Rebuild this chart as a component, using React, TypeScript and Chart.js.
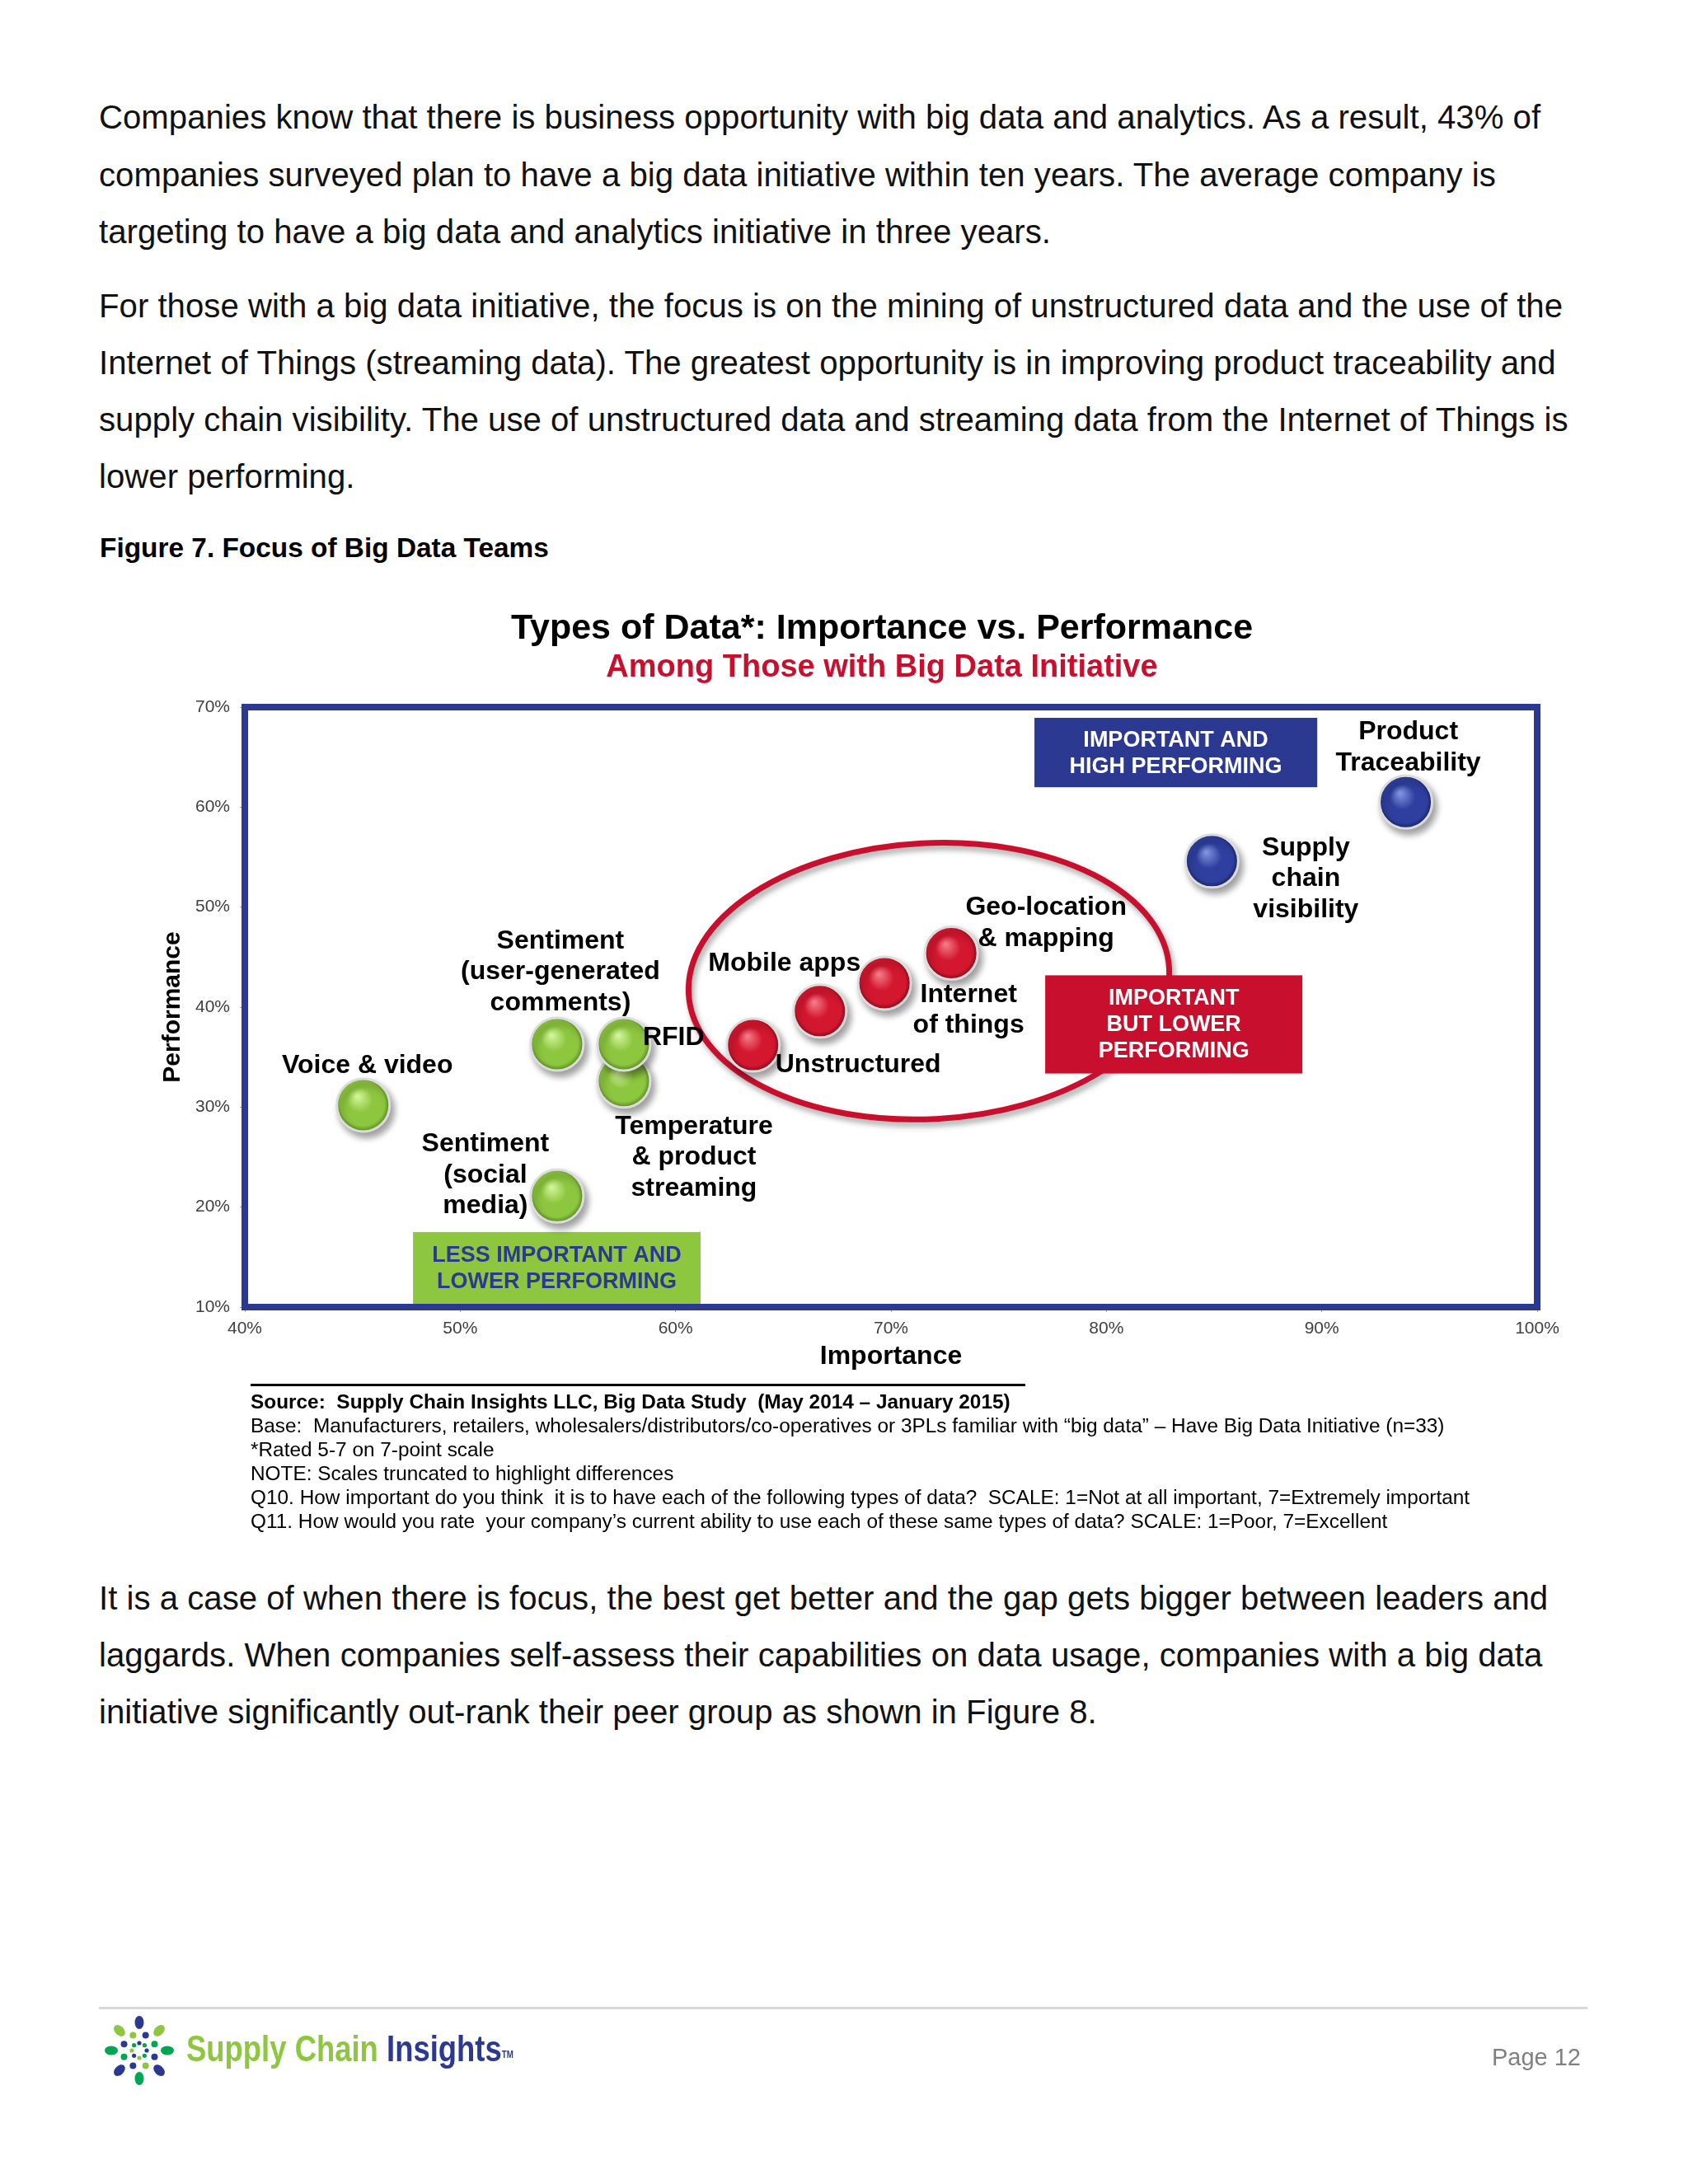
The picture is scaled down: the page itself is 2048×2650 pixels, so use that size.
import React, { useEffect, useRef } from 'react';
import { Chart, registerables } from 'chart.js';

Chart.register(...registerables);

const FONT = '"Liberation Sans", Arial, Helvetica, sans-serif';

// ---------------- data ----------------
const dataTypes = [
  'Voice & video',
  'Sentiment (social media)',
  'Sentiment (user-generated comments)',
  'Temperature & product streaming',
  'RFID',
  'Unstructured',
  'Mobile apps',
  'Internet of things',
  'Geo-location & mapping',
  'Supply chain visibility',
  'Product Traceability',
];
const importance = [45.5, 54.5, 54.5, 57.6, 57.6, 63.6, 66.7, 69.7, 72.8, 84.9, 93.9];
const performance = [30.2, 21.1, 36.3, 32.6, 36.3, 36.2, 39.6, 42.4, 45.4, 54.6, 60.5];
const quadrant = ['low', 'low', 'low', 'low', 'low', 'mid', 'mid', 'mid', 'mid', 'high', 'high'];
const labelLines = [
  ['Voice & video'],
  ['Sentiment', '(social', 'media)'],
  ['Sentiment', '(user-generated', 'comments)'],
  ['Temperature', '& product', 'streaming'],
  ['RFID'],
  ['Unstructured'],
  ['Mobile apps'],
  ['Internet', 'of things'],
  ['Geo-location', '& mapping'],
  ['Supply', 'chain', 'visibility'],
  ['Product', 'Traceability'],
];
const xRange = [40, 100];
const yRange = [10, 70];
const tickStep = 10;

const quadrantBoxes = [
  { x0: 76.66, x1: 89.79, y0: 61.99, y1: 68.93, lines: ['IMPORTANT AND', 'HIGH PERFORMING'], bg: '#2B3990', fg: '#FFFFFF' },
  { x0: 77.16, x1: 89.1, y0: 33.36, y1: 43.18, lines: ['IMPORTANT', 'BUT LOWER', 'PERFORMING'], bg: '#C8102E', fg: '#FFFFFF' },
  { x0: 47.81, x1: 61.16, y0: 10.3, y1: 17.51, lines: ['LESS IMPORTANT AND', 'LOWER PERFORMING'], bg: '#8DC63F', fg: '#2B3990' },
];
const focusEllipse = { cx: 71.76, cy: 42.6, rx: 11.17, ry: 13.8, rot: -3 };

// label placement relative to its ball (pixels)
const labelOffsets = [
  { dx: 5, dy: -48, align: 'center' },
  { dx: -87, dy: -63, align: 'center' },
  { dx: 4, dy: -125, align: 'center' },
  { dx: 85, dy: 55, align: 'center' },
  { dx: 23, dy: -8, align: 'left' },
  { dx: 27, dy: 24, align: 'left' },
  { dx: -43, dy: -58, align: 'center' },
  { dx: 102, dy: 14, align: 'center' },
  { dx: 115, dy: -55, align: 'center' },
  { dx: 114, dy: -16, align: 'center' },
  { dx: 3, dy: -85, align: 'center' },
];

const NAVY = '#2B3990';
const RED = '#C8102E';

const ballColors: Record<string, string[]> = {
  low: ['#d2f59a', '#8dc63f', '#4f8418'],
  mid: ['#f47a88', '#d3172f', '#7e0816'],
  high: ['#8093dd', '#2f3f9f', '#151e5a'],
};

function ballFill(group: string) {
  return (c: any) => {
    const [light, base, dark] = ballColors[group];
    if (!c || c.type !== 'data') return base;
    const chart = c.chart;
    const xs = chart.scales && chart.scales.x;
    const ys = chart.scales && chart.scales.y;
    if (!xs || !ys || !c.raw) return base;
    const px = xs.getPixelForValue(c.raw.x);
    const py = ys.getPixelForValue(c.raw.y);
    if (!Number.isFinite(px) || !Number.isFinite(py)) return base;
    const g = chart.ctx.createRadialGradient(px - 7, py - 11, 1, px, py, 33);
    g.addColorStop(0, light);
    g.addColorStop(0.45, base);
    g.addColorStop(0.82, base);
    g.addColorStop(1, dark);
    return g;
  };
}

function makeDataset(group: string) {
  const pts: { x: number; y: number }[] = [];
  dataTypes.forEach((_, i) => {
    if (quadrant[i] === group) pts.push({ x: importance[i], y: performance[i] });
  });
  return {
    label: group,
    data: pts,
    pointRadius: 32,
    pointHoverRadius: 32,
    pointBorderWidth: 3,
    pointBorderColor: '#dcdcdc',
    pointBackgroundColor: ballFill(group),
    showLine: false,
  };
}

const annotationPlugin = {
  id: 'bigDataAnnotations',
  beforeDatasetsDraw(chart: any) {
    const { ctx } = chart;
    const x = chart.scales.x;
    const y = chart.scales.y;
    // focus ellipse
    const ecx = x.getPixelForValue(focusEllipse.cx);
    const ecy = y.getPixelForValue(focusEllipse.cy);
    const erx = Math.abs(x.getPixelForValue(focusEllipse.cx + focusEllipse.rx) - ecx);
    const ery = Math.abs(y.getPixelForValue(focusEllipse.cy + focusEllipse.ry) - ecy);
    ctx.save();
    ctx.shadowColor = 'rgba(0,0,0,0.35)';
    ctx.shadowBlur = 7;
    ctx.shadowOffsetX = 3;
    ctx.shadowOffsetY = 5;
    ctx.strokeStyle = RED;
    ctx.lineWidth = 7;
    ctx.beginPath();
    ctx.ellipse(ecx, ecy, erx, ery, (focusEllipse.rot * Math.PI) / 180, 0, Math.PI * 2);
    ctx.stroke();
    ctx.restore();
    // quadrant boxes
    for (const b of quadrantBoxes) {
      const l = x.getPixelForValue(b.x0);
      const r = x.getPixelForValue(b.x1);
      const t = y.getPixelForValue(b.y1);
      const btm = y.getPixelForValue(b.y0);
      ctx.save();
      ctx.fillStyle = b.bg;
      ctx.fillRect(l, t, r - l, btm - t);
      ctx.fillStyle = b.fg;
      ctx.font = `bold 27px ${FONT}`;
      ctx.textAlign = 'center';
      ctx.textBaseline = 'middle';
      const cxb = (l + r) / 2;
      const cyb = (t + btm) / 2;
      const n = b.lines.length;
      b.lines.forEach((line, k) => {
        ctx.fillText(line, cxb, cyb + (k - (n - 1) / 2) * 32 + 1);
      });
      ctx.restore();
    }
    // drop shadow for balls
    ctx.save();
    ctx.shadowColor = 'rgba(0,0,0,0.38)';
    ctx.shadowBlur = 9;
    ctx.shadowOffsetX = 4;
    ctx.shadowOffsetY = 6;
  },
  afterDatasetsDraw(chart: any) {
    const { ctx, chartArea } = chart;
    ctx.restore();
    const x = chart.scales.x;
    const y = chart.scales.y;
    // labels
    ctx.save();
    ctx.fillStyle = '#000';
    ctx.font = `bold 32px ${FONT}`;
    ctx.textBaseline = 'middle';
    dataTypes.forEach((_, i) => {
      const px = x.getPixelForValue(importance[i]);
      const py = y.getPixelForValue(performance[i]);
      const o = labelOffsets[i];
      ctx.textAlign = o.align;
      labelLines[i].forEach((line, k) => {
        ctx.fillText(line, px + o.dx, py + o.dy + k * 37.5);
      });
    });
    ctx.restore();
    // frame
    ctx.save();
    ctx.strokeStyle = NAVY;
    ctx.lineWidth = 8;
    ctx.strokeRect(chartArea.left, chartArea.top, chartArea.right - chartArea.left, chartArea.bottom - chartArea.top);
    ctx.restore();
  },
  afterDraw(chart: any) {
    const { ctx } = chart;
    ctx.save();
    ctx.textAlign = 'center';
    ctx.textBaseline = 'middle';
    ctx.fillStyle = '#000';
    ctx.font = `bold 43px ${FONT}`;
    ctx.fillText('Types of Data*: Importance vs. Performance', 970, 73);
    ctx.fillStyle = RED;
    ctx.font = `bold 38px ${FONT}`;
    ctx.fillText('Among Those with Big Data Initiative', 970, 121);
    ctx.restore();
  },
};

const para1 = [
  'Companies know that there is business opportunity with big data and analytics. As a result, 43% of',
  'companies surveyed plan to have a big data initiative within ten years. The average company is',
  'targeting to have a big data and analytics initiative in three years.',
];
const para2 = [
  'For those with a big data initiative, the focus is on the mining of unstructured data and the use of the',
  'Internet of Things (streaming data). The greatest opportunity is in improving product traceability and',
  'supply chain visibility. The use of unstructured data and streaming data from the Internet of Things is',
  'lower performing.',
];
const para3 = [
  'It is a case of when there is focus, the best get better and the gap gets bigger between leaders and',
  'laggards. When companies self-assess their capabilities on data usage, companies with a big data',
  'initiative significantly out-rank their peer group as shown in Figure 8.',
];
const footnotes = [
  'Base:  Manufacturers, retailers, wholesalers/distributors/co-operatives or 3PLs familiar with \u201cbig data\u201d \u2013 Have Big Data Initiative (n=33)',
  '*Rated 5-7 on 7-point scale',
  'NOTE: Scales truncated to highlight differences',
  'Q10. How important do you think  it is to have each of the following types of data?  SCALE: 1=Not at all important, 7=Extremely important',
  'Q11. How would you rate  your company\u2019s current ability to use each of these same types of data? SCALE: 1=Poor, 7=Excellent',
];

function Line(props: { x: number; cy: number; size: number; bold?: boolean; color?: string; text: string }) {
  const { x, cy, size, bold, color, text } = props;
  return (
    <div
      style={{
        position: 'absolute',
        left: x,
        top: cy - size * 0.6,
        fontSize: size,
        lineHeight: `${size * 1.2}px`,
        fontWeight: bold ? 700 : 400,
        color: color || '#111',
        whiteSpace: 'pre',
        fontFamily: FONT,
      }}
    >
      {text}
    </div>
  );
}

function Logo() {
  const cx = 169;
  const cy = 2488;
  const outerCols = ['#2B3990', '#8DC63F', '#00A651', '#2B3990', '#00A651', '#2B3990', '#00A651', '#8DC63F'];
  const midCols = ['#2B3990', '#00A651', '#2B3990', '#8DC63F', '#2B3990', '#00A651', '#2B3990', '#8DC63F'];
  const dots: React.ReactNode[] = [];
  for (let i = 0; i < 8; i++) {
    const a = (-90 + 45 * i) * (Math.PI / 180);
    const deg = -90 + 45 * i;
    const ox = cx + 34 * Math.cos(a);
    const oy = cy + 34 * Math.sin(a);
    dots.push(<ellipse key={'o' + i} cx={ox} cy={oy} rx={8} ry={5.5} transform={`rotate(${deg} ${ox} ${oy})`} fill={outerCols[i]} />);
    const b = (-67.5 + 45 * i) * (Math.PI / 180);
    dots.push(<circle key={'m' + i} cx={cx + 20 * Math.cos(b)} cy={cy + 20 * Math.sin(b)} r={4} fill={midCols[i]} />);
    dots.push(<circle key={'i' + i} cx={cx + 9 * Math.cos(a)} cy={cy + 9 * Math.sin(a)} r={2.6} fill={outerCols[(i + 3) % 8]} />);
  }
  return (
    <svg style={{ position: 'absolute', left: 0, top: 0, pointerEvents: 'none' }} width={2048} height={2650}>
      {dots}
    </svg>
  );
}

export default function App() {
  const ref = useRef<HTMLCanvasElement>(null);
  useEffect(() => {
    const canvas = ref.current;
    if (!canvas) return;
    Chart.defaults.font.family = FONT;
    const chart = new Chart(canvas, {
      type: 'scatter',
      data: { datasets: [makeDataset('low'), makeDataset('mid'), makeDataset('high')] },
      options: {
        responsive: false,
        animation: false,
        devicePixelRatio: 1,
        events: [],
        layout: { padding: { left: 37, right: 85, top: 168, bottom: 25 } },
        plugins: { legend: { display: false }, tooltip: { enabled: false }, title: { display: false } },
        scales: {
          x: {
            type: 'linear',
            min: xRange[0],
            max: xRange[1],
            ticks: { stepSize: tickStep, callback: (v: any) => v + '%', font: { size: 21, family: FONT }, color: '#404040', padding: 8, maxRotation: 0 },
            grid: { drawOnChartArea: false, drawTicks: true, tickLength: 6, color: '#9a9a9a' },
            border: { display: false },
            title: { display: true, text: 'Importance', color: '#000', font: { size: 32, weight: 'bold', family: FONT }, padding: { top: 0, bottom: 0 } },
            afterFit: (s: any) => { s.height = 79; },
          },
          y: {
            type: 'linear',
            min: yRange[0],
            max: yRange[1],
            ticks: { stepSize: tickStep, callback: (v: any) => v + '%', font: { size: 21, family: FONT }, color: '#404040', padding: 12 },
            grid: { drawOnChartArea: false, drawTicks: true, tickLength: 6, color: '#9a9a9a' },
            border: { display: false },
            title: { display: true, text: 'Performance', color: '#000', font: { size: 30, weight: 'bold', family: FONT }, padding: { top: 55, bottom: 0 } },
            afterFit: (s: any) => { s.width = 160; },
          },
        },
      },
      plugins: [annotationPlugin],
    } as any);
    return () => chart.destroy();
  }, []);

  const bodyCys1 = [143.6, 212.9, 282.2];
  const bodyCys2 = [371.8, 441, 510.3, 579.6];
  const bodyCys3 = [1940, 2009, 2078];

  return (
    <div style={{ position: 'absolute', left: 0, top: 0, width: 2048, height: 2650, background: '#fff', overflow: 'hidden', fontFamily: FONT }}>
      {para1.map((t, i) => <Line key={'a' + i} x={120} cy={bodyCys1[i]} size={40.2} text={t} />)}
      {para2.map((t, i) => <Line key={'b' + i} x={120} cy={bodyCys2[i]} size={40.2} text={t} />)}
      <Line x={121} cy={665} size={33.4} bold text="Figure 7. Focus of Big Data Teams" color="#000" />
      <canvas ref={ref} width={1850} height={1000} style={{ position: 'absolute', left: 100, top: 690, width: 1850, height: 1000 }} />
      <div style={{ position: 'absolute', left: 304, top: 1679, width: 940, height: 3, background: '#000' }} />
      <Line x={304} cy={1701} size={24.4} bold color="#000" text={'Source:  Supply Chain Insights LLC, Big Data Study  (May 2014 \u2013 January 2015)'} />
      {footnotes.map((t, i) => <Line key={'f' + i} x={304} cy={1730 + 29 * i} size={24.4} color="#000" text={t} />)}
      {para3.map((t, i) => <Line key={'c' + i} x={120} cy={bodyCys3[i]} size={40.2} text={t} />)}
      <div style={{ position: 'absolute', left: 120, top: 2435, width: 1806, height: 3, background: '#d9d9d9' }} />
      <Logo />
      <div style={{ position: 'absolute', left: 226, top: 2486 - 27, fontSize: 45, lineHeight: '53px', fontWeight: 700, whiteSpace: 'nowrap', transform: 'scaleX(0.81)', transformOrigin: 'left center', fontFamily: FONT }}>
        <span style={{ color: '#8DC63F' }}>Supply Chain </span>
        <span style={{ color: '#2B3990' }}>Insights</span>
        <span style={{ color: '#2B3990', fontSize: 12, verticalAlign: 'top', position: 'relative', top: 8 }}>TM</span>
      </div>
      <div style={{ position: 'absolute', right: 2048 - 1918, top: 2496 - 17, fontSize: 29, lineHeight: '35px', color: '#808080', whiteSpace: 'nowrap', fontFamily: FONT }}>Page 12</div>
    </div>
  );
}
